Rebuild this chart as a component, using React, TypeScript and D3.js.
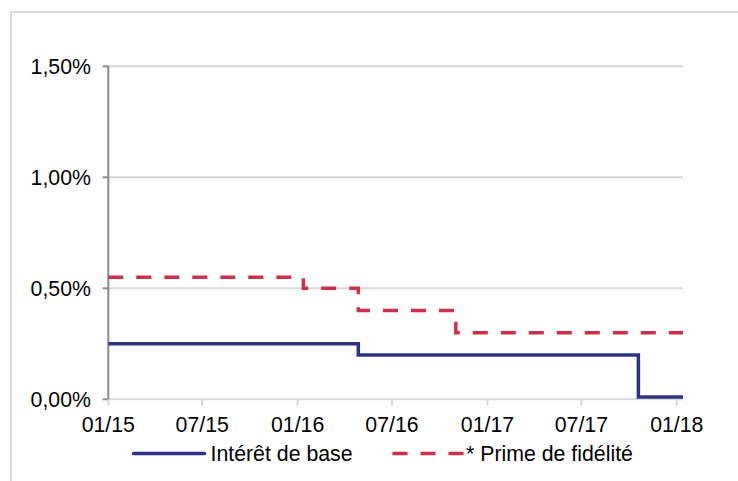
import React from "react";
import * as d3 from "d3";

const yTicks = [0, 0.5, 1, 1.5];
const yTickLabels = ["0,00%", "0,50%", "1,00%", "1,50%"];
const xTickDates = ["2015-01-01", "2015-07-01", "2016-01-01", "2016-07-01", "2017-01-01", "2017-07-01", "2018-01-01"];
const xTickLabels = ["01/15", "07/15", "01/16", "07/16", "01/17", "07/17", "01/18"];

const baseDates = ["2015-01-01", "2016-04-27", "2017-10-19", "2018-01-13"];
const baseValues = [0.25, 0.2, 0.01, 0.01];
const primeDates = ["2015-01-01", "2016-01-12", "2016-04-27", "2016-11-01", "2018-01-13"];
const primeValues = [0.55, 0.5, 0.4, 0.3, 0.3];

const seriesNames = ["Intérêt de base", "* Prime de fidélité"];
const colors = ["#2F3386", "#D12E4B"];

const parse = d3.utcParse("%Y-%m-%d");

export default function App() {
  const W = 738, H = 481;
  const x = d3.scaleUtc()
    .domain([parse("2015-01-01")!, parse("2018-01-13")!])
    .range([108.3, 683]);
  const y = d3.scaleLinear().domain([0, 1.5]).range([399.3, 66.3]);

  const line = d3.line<[Date, number]>()
    .x(d => x(d[0]))
    .y(d => y(d[1]))
    .curve(d3.curveStepAfter);

  const baseData: [Date, number][] = baseDates.map((d, i) => [parse(d)!, baseValues[i]]);
  const primeData: [Date, number][] = primeDates.map((d, i) => [parse(d)!, primeValues[i]]);

  const font = "'Liberation Sans', Arial, sans-serif";
  const fs = 21.3;
  const x0 = x.range()[0], x1 = x.range()[1];

  return (
    <svg width={W} height={H} style={{ position: "absolute", left: 0, top: 0, background: "#fff" }}>
      <rect x={11} y={12} width={740} height={480} fill="#fff" stroke="#D9D9D9" strokeWidth={2} />
      {yTicks.map((t, i) => (
        <g key={"g" + i}>
          <line x1={x0} x2={x1} y1={y(t)} y2={y(t)} stroke="#D9D9D9" strokeWidth={2} />
          <line x1={102.5} x2={x0} y1={y(t)} y2={y(t)} stroke="#8C8C8C" strokeWidth={2} />
          <text x={91} y={y(t)} dy="0.36em" textAnchor="end" fontFamily={font} fontSize={fs} fill="#000">
            {yTickLabels[i]}
          </text>
        </g>
      ))}
      {xTickDates.map((d, i) => {
        const xx = x(parse(d)!);
        return (
          <g key={"x" + i}>
            <line x1={xx} x2={xx} y1={y(0)} y2={y(0) + 6.5} stroke="#D9D9D9" strokeWidth={2} />
            <text x={xx} y={432} textAnchor="middle" fontFamily={font} fontSize={fs} fill="#000">
              {xTickLabels[i]}
            </text>
          </g>
        );
      })}
      <line x1={x0} x2={x0} y1={y(1.5)} y2={y(0)} stroke="#8C8C8C" strokeWidth={2} />
      <path d={line(primeData)!} fill="none" stroke={colors[1]} strokeWidth={3.5} strokeDasharray="15 13" />
      <path d={line(baseData)!} fill="none" stroke={colors[0]} strokeWidth={3.5} />
      <g>
        <line x1={133.5} x2={204.5} y1={453.5} y2={453.5} stroke={colors[0]} strokeWidth={3.5} strokeLinecap="round" />
        <text x={210.5} y={461} fontFamily={font} fontSize={fs} fill="#000">{seriesNames[0]}</text>
        <line x1={392.5} x2={463.5} y1={453.5} y2={453.5} stroke={colors[1]} strokeWidth={3.5} strokeDasharray="15 13" />
        <text x={466} y={461} fontFamily={font} fontSize={fs} fill="#000">{seriesNames[1]}</text>
      </g>
    </svg>
  );
}
